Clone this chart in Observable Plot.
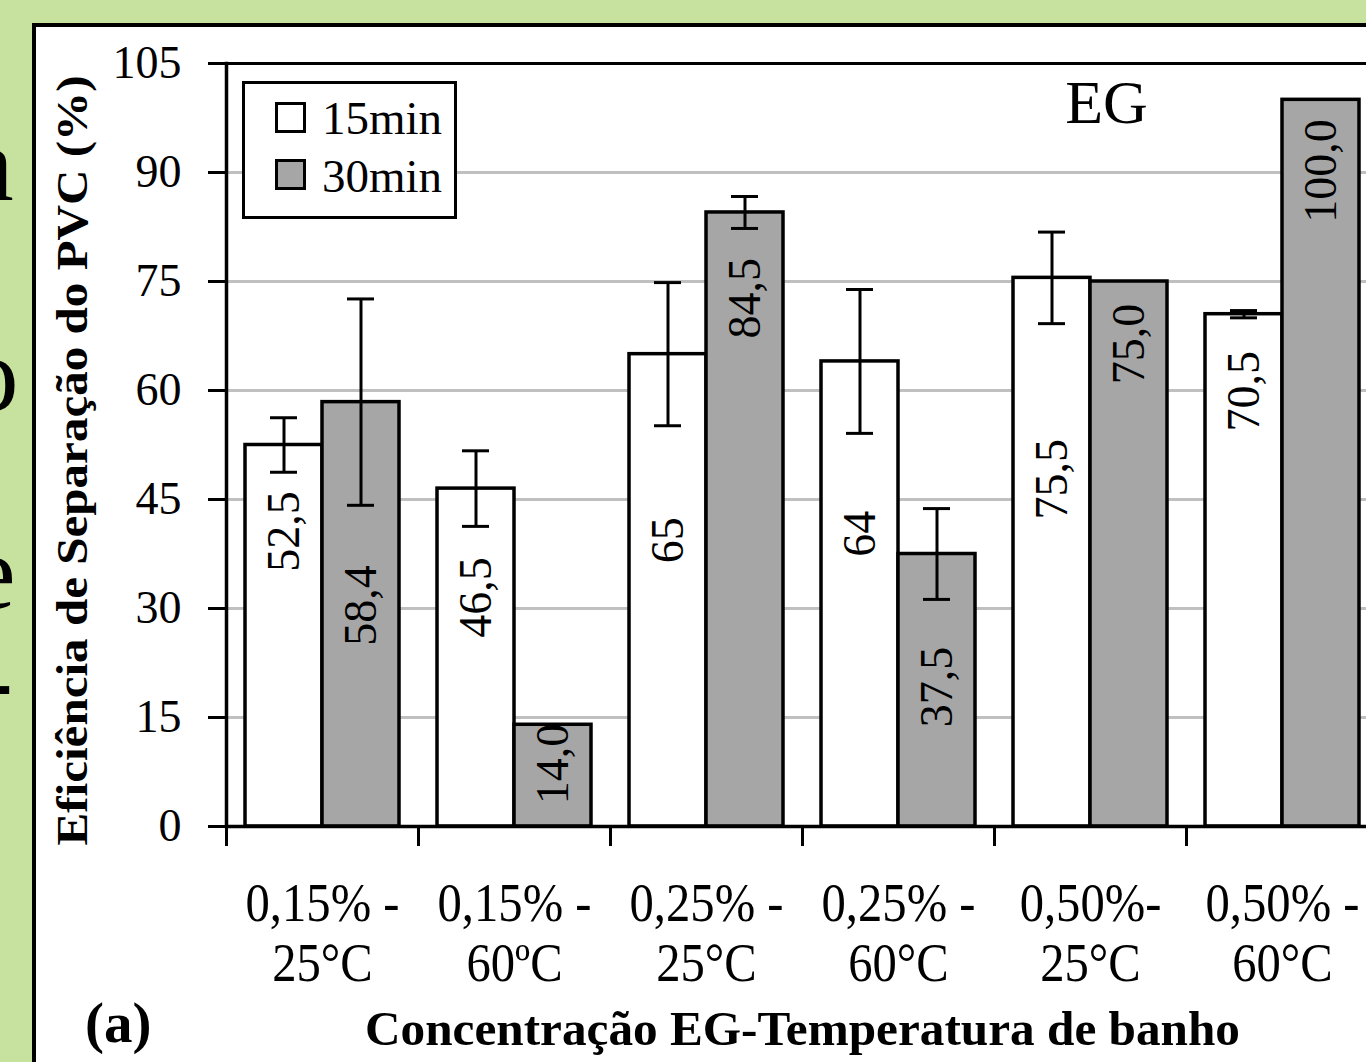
<!DOCTYPE html>
<html>
<head>
<meta charset="utf-8">
<script src="https://cdn.jsdelivr.net/npm/d3@7"></script>
<script src="https://cdn.jsdelivr.net/npm/@observablehq/plot@0.6"></script>
<style>
html, body { margin: 0; padding: 0; width: 1366px; height: 1062px; overflow: hidden; background: #c7e29f; font-family: "Liberation Serif", "Times New Roman", serif; }
.frag { position: absolute; font-size: 105px; line-height: 1; color: #000; white-space: pre; }
#panel { position: absolute; left: 32px; top: 23px; width: 1400px; height: 1100px; background: #fff; border: 4px solid #000; box-sizing: border-box; }
#chart { position: absolute; left: 0; top: 0; }
#legend { position: absolute; left: 242px; top: 81px; width: 215px; height: 138px; box-sizing: border-box; border: 3.5px solid #000; background: #fff; }
.sw { position: absolute; left: 30px; width: 31px; height: 31px; box-sizing: border-box; border: 3px solid #000; }
.lt { position: absolute; left: 77px; font-size: 47px; line-height: 1; white-space: pre; }
#tag { position: absolute; left: 85px; top: 994px; font-size: 57px; font-weight: bold; line-height: 1; }
</style>
</head>
<body>
<div class="frag" style="left:-33px; top:112px;">a</div>
<div class="frag" style="left:-34px; top:322px;">o</div>
<div class="frag" style="left:-31px; top:520px;">e</div>
<div class="frag" style="left:-22px; top:627px;">-</div>
<div id="panel"></div>
<div id="chart"></div>
<div id="legend"></div>
<div id="tag">(a)</div>
<script>
// ---- data ----
const categories = ["0,15% -\n25°C", "0,15% -\n60ºC", "0,25% -\n25°C", "0,25% -\n60°C", "0,50%-\n25°C", "0,50% -\n60°C"];
const series = ["15min", "30min"];
const values15 = [52.5, 46.5, 65, 64, 75.5, 70.5];
const values30 = [58.4, 14.0, 84.5, 37.5, 75.0, 100.0];
const err15 = [3.75, 5.2, 9.85, 9.9, 6.3, 0.5];
const err30 = [14.2, 0, 2.2, 6.25, 0, 0];
const labelAt15 = [40.6, 31.5, 39.4, 40.3, 47.8, 59.9];
const labelAt30 = [30.4, 8.6, 72.7, 19.2, 66.4, 90.2];
const yTicks = [0, 15, 30, 45, 60, 75, 90, 105];
const seriesColors = ["#ffffff", "#a6a6a6"];
const yTitle = "Eficiência de Separação do PVC (%)";
const xTitle = "Concentração EG-Temperatura de banho";
const panelTitle = "EG";

const fmt15 = v => String(v).replace(".", ",");
const fmt30 = v => v.toFixed(1).replace(".", ",");

const rows = categories.flatMap((c, i) => [
  {cat: c, series: series[0], value: values15[i], err: err15[i], labelAt: labelAt15[i], label: fmt15(values15[i])},
  {cat: c, series: series[1], value: values30[i], err: err30[i], labelAt: labelAt30[i], label: fmt30(values30[i])}
]);
const errRows = rows.filter(d => d.err > 0);

// ---- layout ----
const W = 1366, H = 1062, mT = 63, mB = 236, mL = 224, mR = -14;

const plot = Plot.plot({
  width: W, height: H,
  marginTop: mT, marginBottom: mB, marginLeft: mL, marginRight: mR,
  style: {background: "transparent", fontFamily: "'Liberation Serif', 'Times New Roman', serif", overflow: "visible", color: "black"},
  fx: {domain: categories, padding: 0, axis: null, label: null},
  x: {domain: series, paddingInner: 0, paddingOuter: 0.235, axis: null, label: null},
  y: {domain: [0, 105], axis: null, label: null},
  color: {domain: series, range: seriesColors},
  marks: [
    Plot.ruleY(yTicks.filter(t => t > 0 && t < 105), {stroke: "#c0c0c0", strokeWidth: 3}),
    Plot.barY(rows, {fx: "cat", x: "series", y: "value", fill: "series", stroke: "black", strokeWidth: 3.5}),
    Plot.ruleX(errRows, {fx: "cat", x: "series", y1: d => d.value - d.err, y2: d => d.value + d.err, stroke: "black", strokeWidth: 3}),
    Plot.tickY(errRows, {fx: "cat", x: "series", y: d => d.value - d.err, insetLeft: 25, insetRight: 25, stroke: "black", strokeWidth: 3}),
    Plot.tickY(errRows, {fx: "cat", x: "series", y: d => d.value + d.err, insetLeft: 25, insetRight: 25, stroke: "black", strokeWidth: 3}),
    Plot.text(rows, {fx: "cat", x: "series", y: "labelAt", text: "label", rotate: -90, fontSize: 46, fill: "black"}),
    Plot.ruleY([105], {stroke: "black", strokeWidth: 3}),
    Plot.ruleY([0], {stroke: "black", strokeWidth: 3.5}),
    Plot.frame({anchor: "left", facetAnchor: "left", stroke: "black", strokeWidth: 3.5}),
    Plot.frame({anchor: "left", insetTop: H - mT - mB, insetBottom: -18, stroke: "black", strokeWidth: 3}),
    Plot.axisY({ticks: yTicks, tickSize: 18, tickPadding: 27, fontSize: 46, stroke: "black", strokeWidth: 3, label: null}),
    Plot.axisFx({anchor: "bottom", ticks: categories, tickSize: 0, tickPadding: 52, fontSize: 54, lineHeight: 1.11, label: null}),
    Plot.text([yTitle], {frameAnchor: "bottom-left", facetAnchor: "left", rotate: -90, textAnchor: "start", dx: -140, dy: 19, fontSize: 45, fontWeight: "bold", fill: "black"}),
    Plot.text([xTitle], {fx: [categories[3]], frameAnchor: "bottom-left", textAnchor: "middle", lineAnchor: "bottom", dy: 218, fontSize: 49, fontWeight: "bold", fill: "black"}),
    Plot.text([panelTitle], {fx: [categories[4]], frameAnchor: "top", lineAnchor: "top", dx: 16, dy: 15, fontSize: 62, fill: "black"})
  ]
});

document.getElementById("chart").append(plot);

// slightly condensed serif, as in the original
function condense(sel, k) {
  plot.querySelectorAll(sel).forEach(t => {
    const parts = t.querySelectorAll("tspan");
    (parts.length ? [...parts] : [t]).forEach(e => {
      const L = e.getComputedTextLength();
      if (L > 0) { e.setAttribute("textLength", (L * k).toFixed(1)); e.setAttribute("lengthAdjust", "spacingAndGlyphs"); }
    });
  });
}
condense('g[aria-label="fx-axis tick label"] text', 0.9);
plot.querySelectorAll("text").forEach(t => {
  if (t.textContent === yTitle) { t.setAttribute("textLength", 770); t.setAttribute("lengthAdjust", "spacingAndGlyphs"); }
  if (t.textContent === xTitle) { t.setAttribute("textLength", 875); t.setAttribute("lengthAdjust", "spacingAndGlyphs"); }
});

// legend
const legend = document.getElementById("legend");
series.forEach((s, i) => {
  const sw = document.createElement("div");
  sw.className = "sw";
  sw.style.top = (18 + i * 57) + "px";
  sw.style.background = seriesColors[i];
  legend.append(sw);
  const lt = document.createElement("div");
  lt.className = "lt";
  lt.style.top = (11 + i * 58) + "px";
  lt.textContent = s;
  legend.append(lt);
});
</script>
</body>
</html>
